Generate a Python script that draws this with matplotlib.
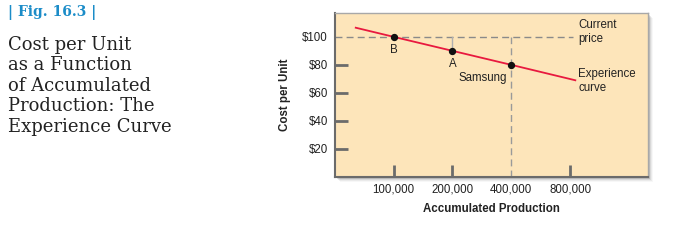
import matplotlib
matplotlib.use("Agg")
import matplotlib.pyplot as plt
from matplotlib.patches import Rectangle

# experience curve
production = [64000, 100000, 200000, 400000, 850000]
cost = [106.5, 100, 90, 80, 69]

# marked points
point_x = [100000, 200000, 400000]
point_y = [100, 90, 80]
point_labels = ["B", "A", "Samsung"]

xticks = [100000, 200000, 400000, 800000]
xtick_labels = ["100,000", "200,000", "400,000", "800,000"]
yticks = [20, 40, 60, 80, 100]
ytick_labels = ["$20", "$40", "$60", "$80", "$100"]

current_price = 100

narrow = ["Liberation Sans", "DejaVu Sans"]
serif = ["DejaVu Serif"]
fs = 8.3

fig = plt.figure(figsize=(6.96, 2.5), dpi=100)
ax = fig.add_axes([0.481, 0.292, 0.45, 0.656])
ax.set_zorder(5)

# soft drop shadow behind the plot box
W, H = 696.0, 250.0
for i, a in enumerate([0.12, 0.08, 0.05, 0.03]):
    off = 2 + i
    fig.patches.append(Rectangle(((335 + off) / W, (73 - off) / H), 313 / W, 164 / H,
                                 transform=fig.transFigure, facecolor="#000000",
                                 alpha=a, edgecolor="none", zorder=0))

ax.set_facecolor("#fde5ba")
ax.set_xscale("log", base=2)
ax.set_xlim(50000, 2.0e6)
ax.set_ylim(0, 117)

# dashed reference lines
ax.plot([50000, 830000], [current_price, current_price], color="#8a8a8a",
        lw=1, ls=(0, (5, 3)), zorder=2)
ax.plot([400000, 400000], [0, current_price], color="#9a9a9a",
        lw=1, ls=(0, (5, 3)), zorder=2)
ax.plot([200000, 200000], [current_price, 92], color="#b0b0b0", lw=1, zorder=2)

ax.plot(production, cost, color="#e8193f", lw=1.3, zorder=3)
ax.scatter(point_x, point_y, s=18, color="#111111", zorder=4)

ax.text(point_x[0], point_y[0] - 5, point_labels[0], ha="center", va="top",
        fontsize=fs, family=narrow, color="#222222")
ax.text(point_x[1], point_y[1] - 5, point_labels[1], ha="center", va="top",
        fontsize=fs, family=narrow, color="#222222")
ax.text(point_x[2] * 0.95, point_y[2] - 5, point_labels[2], ha="right", va="top",
        fontsize=fs, family=narrow, color="#222222")

ax.text(880000, 112.5, "Current\nprice", ha="left", va="top", fontsize=fs,
        family=narrow, color="#222222", linespacing=1.2)
ax.text(880000, 77.5, "Experience\ncurve", ha="left", va="top", fontsize=fs,
        family=narrow, color="#222222", linespacing=1.2)

ax.set_xticks(xticks)
ax.set_xticklabels(xtick_labels)
ax.minorticks_off()
ax.set_yticks(yticks)
ax.set_yticklabels(ytick_labels)
ax.tick_params(direction="in", length=9, width=2, color="#6b6b6b",
               labelsize=fs, labelcolor="#222222", pad=5)
for lab in ax.get_xticklabels() + ax.get_yticklabels():
    lab.set_family(narrow)
ax.xaxis.get_major_ticks()[2].tick1line.set_visible(False)
ax.yaxis.get_major_ticks()[-1].tick1line.set_visible(False)

for s in ["left", "bottom"]:
    ax.spines[s].set_color("#6b6b6b")
    ax.spines[s].set_linewidth(1.5)
for s in ["top", "right"]:
    ax.spines[s].set_color("#a8a8a8")
    ax.spines[s].set_linewidth(1)

ax.set_xlabel("Accumulated Production", fontsize=fs, family=narrow,
              fontweight="bold", color="#222222", labelpad=5)
ax.set_ylabel("Cost per Unit", fontsize=fs, family=narrow,
              fontweight="bold", color="#222222", labelpad=8)

# left hand caption
fig.text(8 / W, 1 - 5 / H, "| Fig. 16.3 |", ha="left", va="top", fontsize=10,
         family=serif, fontweight="bold", color="#1b8cc8")
fig.text(8 / W, 1 - 36 / H,
         "Cost per Unit\nas a Function\nof Accumulated\nProduction: The\nExperience Curve",
         ha="left", va="top", fontsize=13, family=serif, color="#222222",
         linespacing=1.17)

fig.savefig("out.png", dpi=100)
